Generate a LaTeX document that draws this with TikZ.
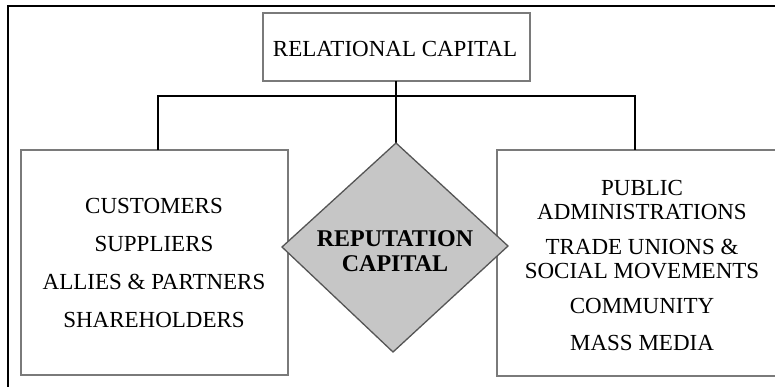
\documentclass[tikz,border=0pt]{standalone}
\usepackage{fontspec}
\setmainfont{Liberation Serif}
\usetikzlibrary{shapes.geometric}
\definecolor{boxline}{HTML}{7A7A7A}
\definecolor{diafill}{HTML}{C6C6C6}
\definecolor{dialine}{HTML}{555555}
\begin{document}
\begin{tikzpicture}[x=1pt,y=-1pt,
  panel/.style={draw=boxline,line width=1.6pt,fill=white},
  link/.style={draw=black,line width=2.7pt},
  txt/.style={font=\fontsize{23}{23.5}\selectfont,align=center,inner sep=0pt},
  hub/.style={font=\fontsize{24}{25}\selectfont\bfseries,align=center,inner sep=0pt}]
\useasboundingbox (0,0) rectangle (775,386);
\clip (0,0) rectangle (775,386);
% outer frame
\draw[line width=2.6pt] (8,400) -- (8,6) -- (790,6);
% boxes
\draw[panel] (263,13) rectangle (530,81);
\node[txt] (rc) at (395,49) {RELATIONAL CAPITAL};
\coordinate (top) at (396,81);
\draw[panel] (21,150) rectangle (288,375);
\draw[panel] (497,150) rectangle (800,376);
\coordinate (lefttop) at (158,150);
\coordinate (righttop) at (635,150);
% connectors
\coordinate (busL) at (158,96);
\coordinate (busR) at (635,96);
\coordinate (dtop) at (396,143);
\draw[link] (top) -- (dtop);
\draw[link] (lefttop) -- (busL) -- (busR) -- (righttop);
% diamond
\draw[draw=dialine,line width=1.3pt,fill=diafill] (dtop) -- (508,246) -- (393,352) -- (282,247) -- cycle;
\node[hub] (rep) at (395,251) {REPUTATION\\CAPITAL};
% left list
\node[txt] (c1) at (154,206) {CUSTOMERS};
\node[txt] (c2) at (154,244) {SUPPLIERS};
\node[txt] (c3) at (154,282) {ALLIES \& PARTNERS};
\node[txt] (c4) at (154,320) {SHAREHOLDERS};
% right list
\node[txt] (r1) at (642,200) {PUBLIC\\ADMINISTRATIONS};
\node[txt] (r2) at (642,259) {TRADE UNIONS \&\\SOCIAL MOVEMENTS};
\node[txt] (r3) at (642,306) {COMMUNITY};
\node[txt] (r4) at (642,343) {MASS MEDIA};
\end{tikzpicture}
\end{document}
